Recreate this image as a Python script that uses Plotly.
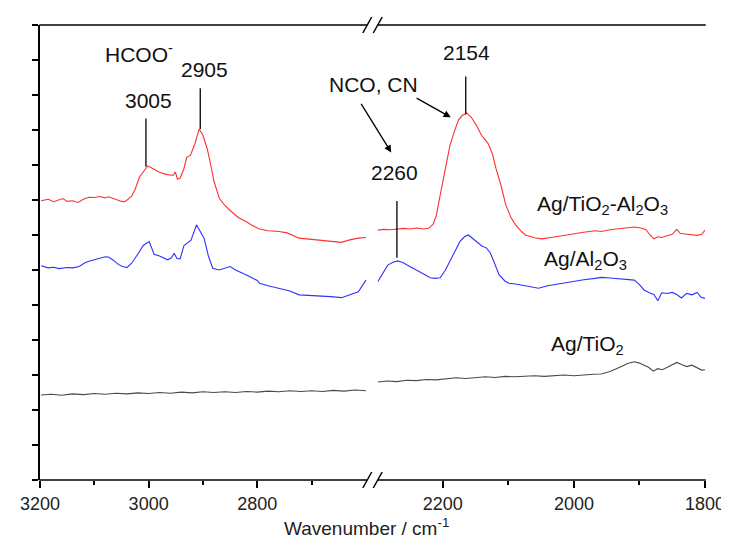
import plotly.graph_objects as go

# ---------------- data (wavenumber in cm-1, absorbance in arbitrary offset units) ----------------
red_left_wn = [3198, 3185, 3175, 3165, 3158, 3150, 3140, 3130, 3120, 3110, 3100, 3090, 3080, 3074, 3065,
               3056, 3050, 3044, 3038, 3031, 3025, 3017, 3010, 3002, 2996, 2989, 2980, 2970, 2962, 2955,
               2951, 2947, 2942, 2935, 2930, 2923, 2915, 2907, 2900, 2892, 2885, 2880, 2870, 2860, 2850,
               2844, 2835, 2820, 2810, 2796, 2780, 2760, 2745, 2723, 2705, 2687, 2665, 2645, 2630, 2614, 2600]
red_left_y = [7.98, 8.02, 7.95, 8.00, 8.04, 7.96, 7.98, 7.93, 8.02, 8.08, 8.07, 8.10, 8.06, 8.09, 8.05,
              7.99, 7.96, 7.95, 8.02, 8.12, 8.30, 8.65, 8.80, 8.97, 8.93, 8.86, 8.79, 8.74, 8.72, 8.70,
              8.80, 8.60, 8.62, 8.90, 9.22, 9.28, 9.60, 10.03, 9.85, 9.45, 8.95, 8.55, 8.05, 7.85, 7.70,
              7.62, 7.50, 7.38, 7.28, 7.17, 7.12, 7.10, 7.06, 6.91, 6.88, 6.86, 6.82, 6.79, 6.86, 6.91, 6.93]

red_right_wn = [2299, 2290, 2280, 2270, 2260, 2250, 2240, 2229, 2222, 2215, 2210, 2204, 2196, 2189, 2182,
                2176, 2170, 2163, 2156, 2149, 2141, 2134, 2131, 2124, 2119, 2111, 2104, 2096, 2089, 2080,
                2074, 2060, 2049, 2035, 2019, 2000, 1985, 1968, 1958, 1945, 1930, 1918, 1908, 1898, 1890,
                1884, 1878, 1872, 1866, 1858, 1850, 1843, 1838, 1830, 1820, 1812, 1805, 1800]
red_right_y = [7.14, 7.16, 7.15, 7.17, 7.19, 7.17, 7.20, 7.17, 7.19, 7.30, 7.55, 8.14, 8.85, 9.57, 9.98,
               10.29, 10.42, 10.48, 10.35, 10.14, 9.85, 9.71, 9.62, 9.30, 8.91, 8.40, 7.86, 7.50, 7.29, 7.10,
               7.00, 6.92, 6.89, 6.93, 6.98, 7.05, 7.08, 7.12, 7.10, 7.15, 7.19, 7.21, 7.23, 7.20, 7.15,
               7.00, 6.89, 6.95, 6.93, 6.98, 7.02, 7.16, 7.05, 7.03, 7.00, 6.99, 7.02, 7.14]

blue_left_wn = [3198, 3185, 3175, 3165, 3150, 3140, 3128, 3118, 3110, 3100, 3090, 3080, 3074, 3065, 3056,
                3048, 3040, 3031, 3020, 3010, 2999, 2990, 2980, 2972, 2965, 2958, 2953, 2948, 2942, 2935,
                2930, 2922, 2912, 2905, 2898, 2890, 2882, 2870, 2860, 2850, 2840, 2825, 2820, 2800, 2796,
                2780, 2760, 2740, 2723, 2705, 2687, 2665, 2645, 2630, 2614, 2600]
blue_left_y = [6.12, 6.06, 6.08, 6.04, 6.07, 6.06, 6.10, 6.20, 6.25, 6.30, 6.35, 6.38, 6.37, 6.28, 6.16,
               6.10, 6.07, 6.20, 6.45, 6.70, 6.81, 6.45, 6.40, 6.35, 6.29, 6.35, 6.48, 6.33, 6.32, 6.70,
               6.76, 6.85, 7.29, 7.10, 6.91, 6.40, 6.05, 6.00, 6.05, 6.10, 6.00, 5.90, 5.86, 5.70, 5.62,
               5.55, 5.48, 5.40, 5.29, 5.28, 5.27, 5.24, 5.21, 5.30, 5.38, 5.71]

blue_right_wn = [2299, 2292, 2284, 2276, 2269, 2262, 2254, 2245, 2234, 2226, 2219, 2212, 2204, 2196, 2189,
                 2181, 2174, 2167, 2161, 2154, 2146, 2140, 2134, 2128, 2124, 2114, 2105, 2099, 2089, 2079,
                 2065, 2054, 2040, 2019, 2000, 1985, 1968, 1958, 1945, 1935, 1920, 1908, 1900, 1893, 1885,
                 1878, 1872, 1866, 1858, 1850, 1843, 1836, 1828, 1820, 1812, 1806, 1800]
blue_right_y = [5.67, 5.90, 6.14, 6.22, 6.26, 6.22, 6.14, 6.05, 5.95, 5.85, 5.78, 5.76, 5.78, 6.00, 6.24,
                6.55, 6.81, 6.95, 7.00, 6.90, 6.76, 6.68, 6.64, 6.50, 6.33, 5.86, 5.68, 5.62, 5.60, 5.57,
                5.52, 5.48, 5.55, 5.62, 5.68, 5.72, 5.76, 5.79, 5.77, 5.75, 5.74, 5.71, 5.58, 5.43, 5.35,
                5.30, 5.12, 5.35, 5.33, 5.36, 5.30, 5.20, 5.33, 5.29, 5.36, 5.22, 5.19]

gray_left_wn = [3198, 3180, 3160, 3140, 3120, 3100, 3080, 3060, 3040, 3020, 3000, 2980, 2960, 2940, 2920,
                2900, 2880, 2860, 2840, 2820, 2800, 2780, 2760, 2740, 2720, 2700, 2680, 2660, 2640, 2620, 2600]
gray_left_y = [2.43, 2.45, 2.42, 2.46, 2.44, 2.47, 2.45, 2.48, 2.46, 2.49, 2.47, 2.50, 2.48, 2.51, 2.49,
               2.52, 2.50, 2.52, 2.50, 2.53, 2.51, 2.54, 2.52, 2.55, 2.53, 2.55, 2.53, 2.56, 2.54, 2.57, 2.55]

gray_right_wn = [2299, 2285, 2270, 2255, 2240, 2225, 2210, 2195, 2180, 2165, 2150, 2135, 2120, 2105, 2090,
                 2075, 2060, 2045, 2030, 2015, 2000, 1985, 1970, 1958, 1945, 1930, 1918, 1908, 1900, 1893,
                 1886, 1879, 1872, 1865, 1858, 1850, 1843, 1836, 1828, 1820, 1812, 1805, 1800]
gray_right_y = [2.80, 2.83, 2.81, 2.85, 2.84, 2.87, 2.86, 2.90, 2.92, 2.90, 2.93, 2.95, 2.93, 2.96, 2.95,
                2.97, 2.98, 2.96, 2.99, 3.00, 2.98, 3.01, 3.02, 3.03, 3.10, 3.22, 3.33, 3.38, 3.34, 3.28,
                3.22, 3.11, 3.18, 3.15, 3.22, 3.30, 3.36, 3.30, 3.24, 3.28, 3.20, 3.14, 3.15]

left_major_ticks = [3200, 3000, 2800]
left_minor_ticks = [3100, 2900, 2700]
right_major_ticks = [2200, 2000, 1800]
right_minor_ticks = [2100, 1900]
left_range = [3200, 2587]
right_range = [2306.5, 1800]
y_ticks = list(range(14))

# peak marker lines: (axis, wavenumber, y from, y to)
peak_lines = [("x", 3005, 8.96, 10.33), ("x", 2905, 10.03, 11.19),
              ("x2", 2270, 6.35, 7.97), ("x2", 2165, 10.45, 11.53)]

# ---------------- layout helpers ----------------
FONT = "Arial, 'Liberation Sans', sans-serif"
W, H = 729, 541
L, R, T, B = 31, 705, 17, 472


def px(x):
    return (x - L) / (R - L)


def py(y):
    return (B - y) / (B - T)


D = px(368.5)

fig = go.Figure()
series = [
    ("#ff3030", red_left_wn, red_left_y, red_right_wn, red_right_y),
    ("#3030ff", blue_left_wn, blue_left_y, blue_right_wn, blue_right_y),
    ("#4a4a4a", gray_left_wn, gray_left_y, gray_right_wn, gray_right_y),
]
for color, lx, ly, rx, ry in series:
    fig.add_trace(go.Scatter(x=lx, y=ly, xaxis="x", yaxis="y", mode="lines",
                             line=dict(color=color, width=1.1), showlegend=False, hoverinfo="skip"))
    fig.add_trace(go.Scatter(x=rx, y=ry, xaxis="x2", yaxis="y", mode="lines",
                             line=dict(color=color, width=1.1), showlegend=False, hoverinfo="skip"))

tickfont = dict(family=FONT, size=18, color="#222")
base = dict(showgrid=False, zeroline=False, showline=False, tickwidth=1.5, tickcolor="black",
            tickfont=tickfont, tickmode="array")


def xax(domain, rng, major, minor, top):
    d = dict(base, range=rng, tickvals=major, ticktext=[str(v) for v in major],
             ticks="inside" if top else "outside", ticklen=7,
             minor=dict(tickmode="array", tickvals=minor, ticks="inside" if top else "outside",
                        ticklen=4, tickwidth=1.5, tickcolor="black"),
             anchor="y", showticklabels=not top)
    if domain is not None:
        d["domain"] = domain
    return d


xa1 = xax([0, D], left_range, left_major_ticks, left_minor_ticks, False)
xa2 = xax([D, 1], right_range, right_major_ticks, right_minor_ticks, False)
xa3 = xax(None, left_range, left_major_ticks, left_minor_ticks, True)
xa3.update(overlaying="x", side="top")
xa4 = xax(None, right_range, right_major_ticks, right_minor_ticks, True)
xa4.update(overlaying="x2", side="top")

ya1 = dict(base, domain=[0, 1], range=[0, 13], tickvals=y_ticks, ticks="outside", ticklen=6,
           showticklabels=False, showline=True, linewidth=1.5, linecolor="black", anchor="x")
ya2 = dict(base, range=[0, 13], tickvals=y_ticks, ticks="inside", ticklen=6, showticklabels=False,
           showline=True, linewidth=1.5, linecolor="black", overlaying="y", side="right", anchor="x2")

shapes = []
# horizontal axis lines with break
for yy in (T, B):
    shapes.append(dict(type="line", xref="paper", yref="paper", x0=px(L - 0.75), x1=px(362.7),
                       y0=py(yy), y1=py(yy), line=dict(color="black", width=1.5)))
    shapes.append(dict(type="line", xref="paper", yref="paper", x0=px(373.3), x1=px(R + 0.75),
                       y0=py(yy), y1=py(yy), line=dict(color="black", width=1.5)))
    for cx in (362.7, 373.3):
        shapes.append(dict(type="line", xref="paper", yref="paper", x0=px(cx - 4.5), x1=px(cx + 4.5),
                           y0=py(yy + 8), y1=py(yy - 8), line=dict(color="black", width=1.5)))
# peak marker lines
for ax, wn, y0, y1 in peak_lines:
    shapes.append(dict(type="line", xref=ax, yref="y", x0=wn, x1=wn, y0=y0, y1=y1,
                       line=dict(color="black", width=1.3)))

afont = dict(family=FONT, size=21, color="#111")
annotations = []


def text(t, x, y, xanchor="center"):
    annotations.append(dict(text=t, xref="paper", yref="paper", x=px(x), y=py(y), showarrow=False,
                            xanchor=xanchor, yanchor="middle", font=afont))


text("HCOO<sup>-</sup>", 131, 45)
text("2905", 197.5, 61.7)
text("3005", 140.8, 92.5)
text("NCO, CN", 369.5, 77)
text("2260", 390, 165)
text("2154", 462.8, 44.2)
text("Ag/TiO<sub>2</sub>-Al<sub>2</sub>O<sub>3</sub>", 670, 197, "right")
text("Ag/Al<sub>2</sub>O<sub>3</sub>", 628.3, 252, "right")
text("Ag/TiO<sub>2</sub>", 625, 337, "right")

# arrows (head position, tail offset in px)
for hx, hy, tx, ty in [(387, 144.4, 356, 94.3), (447.3, 109.3, 411.7, 89.3)]:
    annotations.append(dict(text="", xref="paper", yref="paper", x=px(hx), y=py(hy),
                            ax=tx - hx, ay=ty - hy, axref="pixel", ayref="pixel", showarrow=True,
                            arrowhead=2, arrowsize=1.1, arrowwidth=1.3, arrowcolor="black"))

# axis title
annotations.append(dict(text="Wavenumber / cm<sup>-1</sup>", xref="paper", yref="paper",
                        x=px(362), y=py(519), showarrow=False, xanchor="center", yanchor="middle",
                        font=dict(family=FONT, size=19, color="#222")))

fig.update_layout(width=W, height=H, margin=dict(l=L, r=W - R, t=T, b=H - B, pad=0),
                  paper_bgcolor="white", plot_bgcolor="white",
                  xaxis=xa1, xaxis2=xa2, xaxis3=xa3, xaxis4=xa4, yaxis=ya1, yaxis2=ya2,
                  shapes=shapes, annotations=annotations, showlegend=False)

fig.write_html("out.html")
